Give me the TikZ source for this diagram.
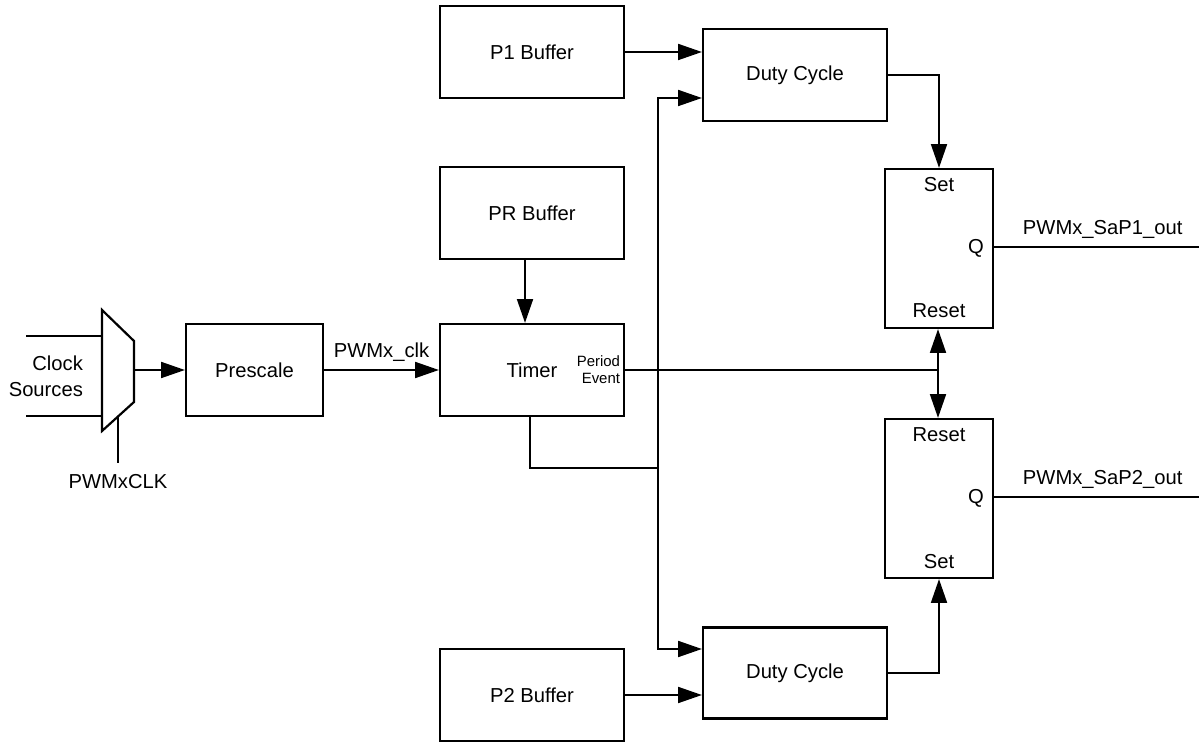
\documentclass[tikz,border=0pt]{standalone}
\usepackage{fontspec}
\setmainfont{Liberation Sans}
\usetikzlibrary{arrows.meta,calc}

\begin{document}
\begin{tikzpicture}[x=0.02cm, y=-0.02cm, line width=1.25pt,
  font=\fontsize{11.5}{14.7}\selectfont,
  block/.style={draw, minimum width=3.68cm, minimum height=1.84cm, inner sep=0pt},
  latch/.style={draw, minimum width=2.16cm, minimum height=3.18cm, inner sep=0pt},
  arr/.style={-{Triangle[length=13.5pt, width=9pt]}}]
  \useasboundingbox (0,0) rectangle (1199,742);
  % mux
  \coordinate (M1) at (102,310);
  \coordinate (M2) at (134,341);
  \coordinate (M3) at (134,402);
  \coordinate (M4) at (102,431);
  \draw (M1)--(M2)--(M3)--(M4)--cycle;
  \coordinate (inA) at (26,336);
  \coordinate (inB) at (26,416);
  \draw (inA) -- (inA -| M1);
  \draw (inB) -- (inB -| M1);
  \coordinate (sel) at (118,416.5);
  \coordinate (selend) at (118,463);
  \draw (sel) -- (selend);
  \node[anchor=north, inner sep=0pt] (clksel) at (118,473) {PWMxCLK};
  \node[align=right, anchor=east, inner sep=0pt] (clksrc) at (84,376) {Clock\\Sources};
  \coordinate (muxout) at (134,370);
  % blocks
  \node[block, minimum width=2.74cm] (prescale) at (254.5,370) {Prescale};
  \node[block] (timer) at (532,370) {Timer};
  \node[block] (prbuf) at (532,213) {PR Buffer};
  \node[block] (p1buf) at (532,52) {P1 Buffer};
  \node[block] (p2buf) at (532,695) {P2 Buffer};
  \node[block] (duty1) at (795,75) {Duty Cycle};
  \node[block, minimum height=1.82cm] (duty2) at (795,673) {Duty Cycle};
  \node[latch] (latch1) at (939,248.5) {};
  \node[latch] (latch2) at (939,498.5) {};
  \node[font=\fontsize{8.5}{9.6}\selectfont, align=right, anchor=east, inner sep=0pt]
    (pevent) at ($(timer.east)+(-4,0)$) {Period\\Event};
  % latch texts
  \node (set1) at ($(latch1.north)+(0,17)$) {Set};
  \node (q1) at ($(latch1.east)+(-18,0)$) {Q};
  \node (rst1) at ($(latch1.south)+(0,-18)$) {Reset};
  \node (rst2) at ($(latch2.north)+(0,17)$) {Reset};
  \node (q2) at ($(latch2.east)+(-18,0)$) {Q};
  \node (set2) at ($(latch2.south)+(0,-18)$) {Set};
  % connections
  \draw[arr] (muxout) -- (prescale.west);
  \draw[arr] (prescale.east) -- node[above, inner sep=4pt] {PWMx\_clk} (timer.west);
  \draw[arr] ($(prbuf.south)+(-7,0)$) -- ($(timer.north)+(-7,0)$);
  \draw[arr] (p1buf.east) -- (p1buf.east -| duty1.west);
  \draw[arr] (p2buf.east) -- (p2buf.east -| duty2.west);
  \coordinate (tap) at (658,468);
  \draw ($(timer.south)+(-2,0)$) |- (tap);
  \draw[arr] (tap) |- ($(duty1.west)+(0,23)$);
  \draw[arr] (tap) |- ($(duty2.west)+(0,-24)$);
  \coordinate (jn) at (938,370);
  \draw (timer.east) -- (jn);
  \draw[arr] (jn) -- (jn |- latch1.south);
  \draw[arr] (jn) -- (jn |- latch2.north);
  \draw[arr] (duty1.east) -| (latch1.north);
  \draw[arr] (duty2.east) -| (latch2.south);
  % outputs
  \coordinate (out1) at (1199,247);
  \coordinate (out2) at (1199,497);
  \draw (out1 -| latch1.east) -- node[pos=0.53, above, inner sep=4pt] {PWMx\_SaP1\_out} (out1);
  \draw (out2 -| latch2.east) -- node[pos=0.53, above, inner sep=4pt] {PWMx\_SaP2\_out} (out2);
\end{tikzpicture}
\end{document}
